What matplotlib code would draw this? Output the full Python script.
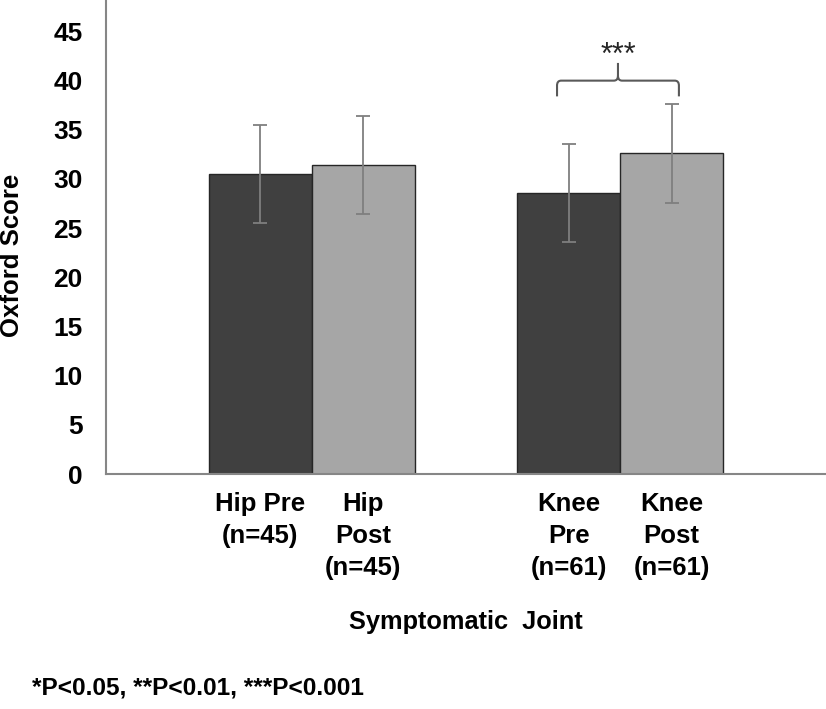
"""Oxford score bar chart, pre/post by symptomatic joint"""

import matplotlib

matplotlib.use("Agg")
import matplotlib.pyplot as plt
from matplotlib.path import Path
from matplotlib.patches import PathPatch

plt.rcParams["font.family"] = ["Liberation Sans", "DejaVu Sans"]

# data
groups = ["Hip", "Knee"]
tick_labels = ["Hip Pre\n(n=45)", "Hip\nPost\n(n=45)", "Knee\nPre\n(n=61)", "Knee\nPost\n(n=61)"]
pre_means = [30.5, 28.6]
post_means = [31.4, 32.6]
pre_sd = [5.0, 5.0]
post_sd = [5.0, 5.0]
y_ticks = [0, 5, 10, 15, 20, 25, 30, 35, 40, 45]
sig_label = "***"

DARK = "#404040"
LIGHT = "#a6a6a6"
ERR = "#7f7f7f"
SPINE = "#868686"

fig = plt.figure(figsize=(8.26, 7.09), dpi=100)
ax = fig.add_axes([106 / 826, 1 - 474 / 709, 1 - 106 / 826, 474 / 709])

centers = [2 + 3 * i for i in range(len(groups))]
pre_x = [c - 0.5 for c in centers]
post_x = [c + 0.5 for c in centers]
err_kw = dict(ecolor=ERR, elinewidth=1.3, capsize=5, capthick=1.3)
ax.bar(pre_x, pre_means, width=1.0, color=DARK, edgecolor="#262626", linewidth=1.0,
       yerr=pre_sd, error_kw=err_kw, zorder=2)
ax.bar(post_x, post_means, width=1.0, color=LIGHT, edgecolor="#262626", linewidth=1.0,
       yerr=post_sd, error_kw=err_kw, zorder=2)

ax.set_xlim(0, 7)
ax.set_ylim(0, 48.2)
ax.set_yticks(y_ticks)
ax.set_yticklabels([str(t) for t in y_ticks], fontsize=19, fontweight="bold")
ax.set_xticks(pre_x + post_x)
ax.set_xticklabels([tick_labels[0], tick_labels[2], tick_labels[1], tick_labels[3]],
                   fontsize=18.5, fontweight="bold")
for lbl in ax.get_xticklabels():
    lbl.set_linespacing(1.42)
ax.tick_params(axis="y", length=0, pad=17)
ax.tick_params(axis="x", length=0, pad=13)

for side in ["top", "right"]:
    ax.spines[side].set_visible(False)
for side in ["left", "bottom"]:
    ax.spines[side].set_color(SPINE)
    ax.spines[side].set_linewidth(1.5)

# curly bracket over the knee pair
x0, x1 = 4.385, 5.57
xm = (x0 + x1) / 2
y_low, y_mid, y_top = 38.4, 40.0, 41.8
dx, dy = 0.04, 0.5
verts = [
    (x0, y_low), (x0, y_mid - dy), (x0, y_mid), (x0 + dx, y_mid),
    (xm - dx, y_mid), (xm, y_mid), (xm, y_mid + dy), (xm, y_top),
    (x1, y_low), (x1, y_mid - dy), (x1, y_mid), (x1 - dx, y_mid),
    (xm + dx, y_mid), (xm, y_mid), (xm, y_mid + dy),
]
codes = [
    Path.MOVETO, Path.LINETO, Path.CURVE3, Path.CURVE3,
    Path.LINETO, Path.CURVE3, Path.CURVE3, Path.LINETO,
    Path.MOVETO, Path.LINETO, Path.CURVE3, Path.CURVE3,
    Path.LINETO, Path.CURVE3, Path.CURVE3,
]
ax.add_patch(PathPatch(Path(verts, codes), facecolor="none", edgecolor="#595959",
                       linewidth=1.5, zorder=3))
ax.text(xm, 44.0, sig_label, ha="center", va="top", fontsize=22, color="#262626")

fig.text(466 / 826, 1 - 622 / 709, "Symptomatic  Joint", ha="center", va="center",
         fontsize=18.3, fontweight="bold")
fig.text(12 / 826, 1 - 255 / 709, "Oxford Score", rotation=90, ha="center", va="center",
         fontsize=18.5, fontweight="bold")
fig.text(32 / 826, 1 - 688 / 709, "*P<0.05, **P<0.01, ***P<0.001", ha="left", va="center",
         fontsize=17.6, fontweight="bold")

fig.savefig("out.png", dpi=100)
